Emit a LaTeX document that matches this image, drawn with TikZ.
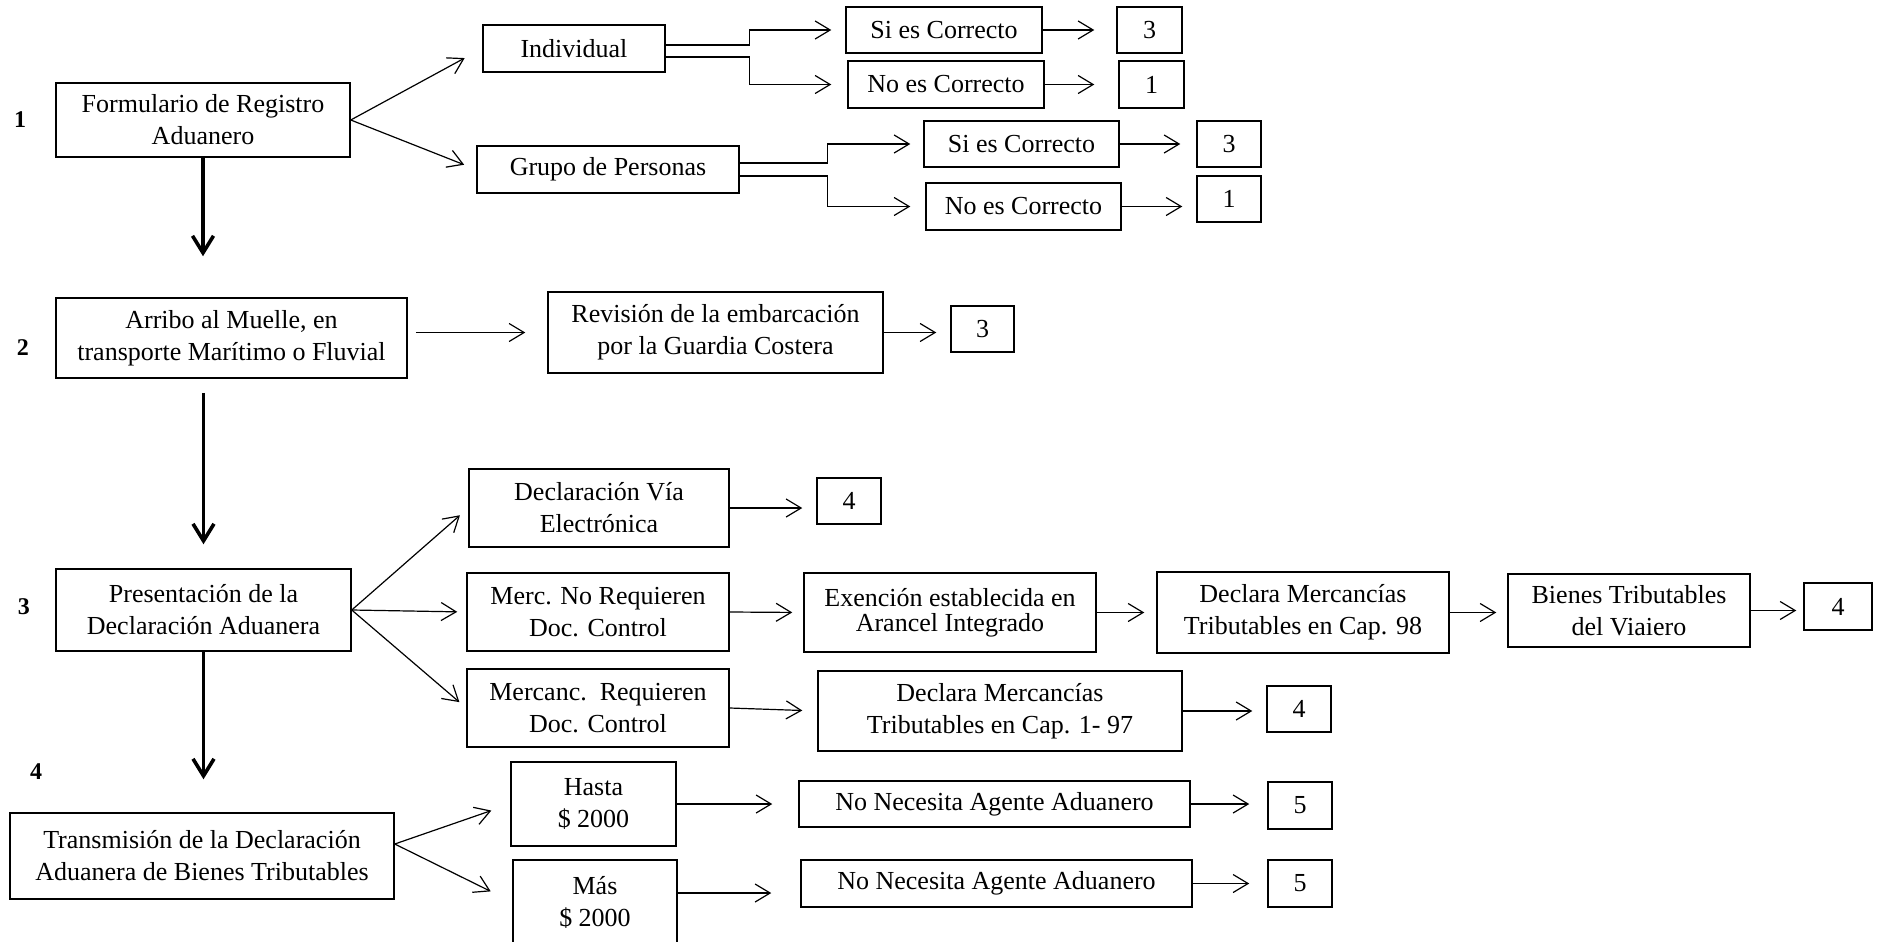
\documentclass[tikz,border=0pt]{standalone}
\usepackage{fontspec}
\setmainfont{Liberation Serif}
\usetikzlibrary{arrows.meta,calc}

\begin{document}
\begin{tikzpicture}[x=0.5pt,y=0.5pt,yscale=-1,xscale=1,
    caja/.style={draw, line width=0.75pt, inner sep=0pt, align=center, font=\fontsize{13}{16}\selectfont},
    flecha/.style={line width=0.6pt, -{Straight Barb[length=7.5pt,width=9pt]}},
    gruesa/.style={line width=1.8pt, -{Straight Barb[length=8.5pt,width=10.5pt]}},
    paso/.style={inner sep=0pt, font=\fontsize{12}{14}\selectfont\bfseries}]
    \useasboundingbox (0,0) rectangle (1884,942);

    % Text Node
    \draw (20,120) node [paso] (p1) {1};
    \draw (23,348) node [paso] (p2) {2};
    \draw (24,607) node [paso] (p3) {3};
    \draw (36,772) node [paso] (p4) {4};

    %Shape: Rectangle (paso 1)
    \draw (203,120) node [caja, minimum width=147pt, minimum height=37pt] (form) {Formulario de Registro\\Aduanero};
    \draw (574,48.5) node [caja, minimum width=91pt, minimum height=23.5pt] (indiv) {Individual};
    \draw (608,169.5) node [caja, minimum width=131pt, minimum height=23.5pt] (grupo) {Grupo de Personas};
    \draw (944,30) node [caja, minimum width=98pt, minimum height=23pt] (si1) {Si es Correcto};
    \draw (946,84.5) node [caja, minimum width=98pt, minimum height=23.5pt] (no1) {No es Correcto};
    \draw (1149.5,30) node [caja, minimum width=32.5pt, minimum height=23pt] (n3a) {3};
    \draw (1151.5,84.5) node [caja, minimum width=32.5pt, minimum height=23.5pt] (n1a) {1};
    \draw (1021.5,144) node [caja, minimum width=97.5pt, minimum height=23pt] (si2) {Si es Correcto};
    \draw (1023.5,206.5) node [caja, minimum width=97.5pt, minimum height=23.5pt] (no2) {No es Correcto};
    \draw (1229,144) node [caja, minimum width=32pt, minimum height=23pt] (n3b) {3};
    \draw (1229,199) node [caja, minimum width=32pt, minimum height=23pt] (n1b) {1};

    %Shape: Rectangle (paso 2)
    \draw (231.5,338) node [caja, minimum width=175.5pt, minimum height=40pt] (arribo) {Arribo al Muelle, en\\transporte Marítimo o Fluvial};
    \draw (715.5,332.5) node [caja, minimum width=167.5pt, minimum height=40.5pt] (revision) {Revisión de la embarcación\\por la Guardia Costera};
    \draw (982.5,329) node [caja, minimum width=31.5pt, minimum height=23pt] (n3c) {3};

    %Shape: Rectangle (paso 3)
    \draw (203.5,610) node [caja, minimum width=147.5pt, minimum height=41pt] (pres) {Presentación de la\\Declaración Aduanera};
    \draw (599,508) node [caja, minimum width=130pt, minimum height=39pt] (declvia) {Declaración Vía\\Electrónica};
    \draw (849,501) node [caja, minimum width=32pt, minimum height=23pt] (n4a) {4};
    \draw (598,612) node [caja, minimum width=131pt, minimum height=39pt] (mercno) {Merc. No Requieren\\Doc. Control};
    \draw (950,612.5) node [caja, minimum width=146pt, minimum height=39.5pt, font=\fontsize{13}{12.5}\selectfont] (exen) {Exención establecida en\\Arancel Integrado};
    \draw (1303,612.5) node [caja, minimum width=146pt, minimum height=40.5pt] (decl98) {Declara Mercancías\\Tributables en Cap. 98};
    \draw (1629,610.5) node [caja, minimum width=121pt, minimum height=36.5pt] (bienes) {Bienes Tributables\\del Viaiero};
    \draw (1838,606.5) node [caja, minimum width=34pt, minimum height=23.5pt] (n4b) {4};
    \draw (598,708) node [caja, minimum width=131pt, minimum height=39pt] (mercanc) {Mercanc.\ \ Requieren\\Doc. Control};
    \draw (1000,711) node [caja, minimum width=182pt, minimum height=40pt] (decl197) {Declara Mercancías\\Tributables en Cap. 1- 97};
    \draw (1299,709) node [caja, minimum width=32pt, minimum height=23pt] (n4c) {4};

    %Shape: Rectangle (paso 4)
    \draw (202,856) node [caja, minimum width=192pt, minimum height=43pt] (trans) {Transmisión de la Declaración\\Aduanera de Bienes Tributables};
    \draw (593.5,804) node [caja, minimum width=82.5pt, minimum height=42pt] (hasta) {Hasta\\\$ 2000};
    \draw (595,902) node [caja, minimum width=82pt, minimum height=42pt] (mas) {Más\\\$ 2000};
    \draw (994.5,804) node [caja, minimum width=195.5pt, minimum height=23pt] (nn1) {No Necesita Agente Aduanero};
    \draw (996.5,883.5) node [caja, minimum width=195.5pt, minimum height=23.5pt] (nn2) {No Necesita Agente Aduanero};
    \draw (1300,805.5) node [caja, minimum width=32pt, minimum height=23.5pt] (n5a) {5};
    \draw (1300,883.5) node [caja, minimum width=32pt, minimum height=23.5pt] (n5b) {5};

    %Straight Lines (flujo principal)
    \draw [gruesa, shorten >=20.5pt] (form.south) -- (form.south |- arribo.north);
    \draw [gruesa, shorten <=7pt, shorten >=12pt] (arribo.south -| pres.north) -- (pres.north);
    \draw [gruesa, shorten >=16.5pt] (pres.south) -- (pres.south |- trans.north);

    %Straight Lines (paso 1)
    \draw [flecha, shorten >=10pt] (form.east) -- (indiv.west);
    \draw [flecha, shorten >=6.5pt] (form.east) -- (grupo.west);
    \draw [flecha, shorten >=7pt] ($(indiv.east)+(0,-3.5)$) -- ++(84,0) |- (si1.west);
    \draw [flecha, shorten >=8pt] ($(indiv.east)+(0,8.5)$) -- ++(84,0) |- (no1.west);
    \draw [flecha, shorten >=6.5pt] ($(grupo.east)+(0,-6.5)$) -- ++(88,0) |- (si2.west);
    \draw [flecha, shorten >=7.5pt] ($(grupo.east)+(0,6.5)$) -- ++(88,0) |- (no2.west);
    \draw [flecha, shorten >=11pt] (si1.east) -- (n3a.west);
    \draw [flecha, shorten >=12pt] (no1.east) -- (n1a.west);
    \draw [flecha, shorten >=8pt] (si2.east) -- (n3b.west);
    \draw [flecha, shorten >=7pt] (no2.east) -- (no2.east -| n1b.west);

    %Straight Lines (paso 2)
    \draw [flecha, shorten <=4pt, shorten >=11pt] (arribo.east |- revision.west) -- (revision.west);
    \draw [flecha, shorten >=7pt] (revision.east) -- (revision.east -| n3c.west);

    %Straight Lines (paso 3)
    \draw [flecha, shorten >=5.5pt] (pres.east) -- (declvia.west);
    \draw [flecha, shorten >=4.5pt] (pres.east) -- (mercno.west);
    \draw [flecha, shorten >=4.5pt] (pres.east) -- (mercanc.west);
    \draw [flecha, shorten >=7pt] (declvia.east) -- (declvia.east -| n4a.west);
    \draw [flecha, shorten >=5.5pt] (mercno.east) -- (exen.west);
    \draw [flecha, shorten >=6pt] (exen.east) -- (decl98.west);
    \draw [flecha, shorten >=5.5pt] (decl98.east) -- (decl98.east -| bienes.west);
    \draw [flecha, shorten >=3.5pt] (bienes.east) -- (bienes.east -| n4b.west);
    \draw [flecha, shorten >=7.5pt] (mercanc.east) -- (decl197.west);
    \draw [flecha, shorten >=7pt] (decl197.east) -- (decl197.east -| n4c.west);

    %Straight Lines (paso 4)
    \coordinate (transx) at ($(trans.east)+(0,-12)$);
    \coordinate (masx) at ($(mas.east)+(0,-9)$);
    \draw [flecha, shorten >=10pt] (transx) -- (hasta.west);
    \draw [flecha, shorten >=12pt] (transx) -- (mas.west);
    \draw [flecha, shorten >=13pt] (hasta.east) -- (hasta.east -| nn1.west);
    \draw [flecha, shorten >=14.5pt] (masx) -- (masx -| nn2.west);
    \draw [flecha, shorten >=9pt] (nn1.east) -- (nn1.east -| n5a.west);
    \draw [flecha, shorten >=9pt] (nn2.east) -- (n5b.west);

\end{tikzpicture}
\end{document}
